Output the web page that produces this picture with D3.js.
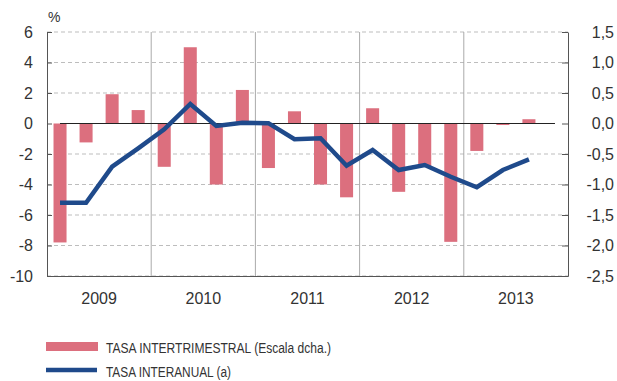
<!DOCTYPE html>
<html>
<head>
  <meta charset="utf-8" />
  <script src="https://d3js.org/d3.v7.min.js"></script>
  <style>
    body { margin: 0; background: #fff; }
    svg { display: block; font-family: "Liberation Sans", Arial, sans-serif; }
    .grid line { stroke: #bdbdbd; stroke-dasharray: 4,3; }
    .axis path, .axis line { stroke: #555; }
    .axis text { fill: #333; font-size: 16px; }
  </style>
</head>
<body>
  <svg width="617" height="381"></svg>
  <script>
    const years = ["2009", "2010", "2011", "2012", "2013"];
    const quarters = years.flatMap(y => ["T1", "T2", "T3", "T4"].map(q => y + q));
    // tasa intertrimestral (escala dcha.), one per quarter up to 2013 T3
    const intertrimestral = [-1.95, -0.31, 0.48, 0.22, -0.71, 1.25, -1.0, 0.55, -0.73, 0.2,
      -1.0, -1.21, 0.25, -1.12, -0.7, -1.94, -0.45, -0.025, 0.07];
    // tasa interanual (escala izq.)
    const interanual = [-5.2, -5.2, -2.83, -1.63, -0.38, 1.28, -0.16, 0.05, 0.02, -1.03,
      -0.97, -2.77, -1.74, -3.05, -2.72, -3.49, -4.18, -3.05, -2.35];
    const leftTicks = [-10, -8, -6, -4, -2, 0, 2, 4, 6];
    const rightTicks = [-2.5, -2.0, -1.5, -1.0, -0.5, 0.0, 0.5, 1.0, 1.5];

    const svg = d3.select("svg");
    const margin = { top: 32, right: 49, bottom: 105, left: 47 };
    const width = 617, height = 381;
    const x0 = margin.left, x1 = width - margin.right;
    const yTop = margin.top, yBot = height - margin.bottom;

    const x = d3.scaleBand().domain(quarters).range([x0, x1]).paddingInner(0.5).paddingOuter(0.25);
    const xYear = d3.scaleBand().domain(years).range([x0, x1]);
    const yL = d3.scaleLinear().domain([-10, 6]).range([yBot, yTop]);
    const yR = d3.scaleLinear().domain([-2.5, 1.5]).range([yBot, yTop]);

    const fmtL = d => d3.format("d")(d).replace("\u2212", "-");
    const fmtR = d => d3.format(".1f")(d).replace("\u2212", "-").replace(".", ",");

    // dashed gridlines (except zero)
    svg.append("g").attr("class", "grid")
      .selectAll("line").data(leftTicks.filter(d => d !== 0)).join("line")
      .attr("x1", x0).attr("x2", x1)
      .attr("y1", d => yL(d)).attr("y2", d => yL(d));

    // year separators
    svg.append("g").selectAll("line").data(years.slice(1)).join("line")
      .attr("x1", d => xYear(d)).attr("x2", d => xYear(d))
      .attr("y1", yTop).attr("y2", yBot)
      .attr("stroke", "#aaa").attr("stroke-width", 1);

    // bars
    svg.append("g").selectAll("rect").data(intertrimestral).join("rect")
      .attr("x", (d, i) => x(quarters[i]))
      .attr("width", x.bandwidth())
      .attr("y", d => Math.min(yR(d), yR(0)))
      .attr("height", d => Math.abs(yR(d) - yR(0)))
      .attr("fill", "#dc6f7e");

    // zero line
    svg.append("line")
      .attr("x1", x(quarters[0]) + x.bandwidth() / 2)
      .attr("x2", x(quarters[quarters.length - 1]) + x.bandwidth() / 2)
      .attr("y1", yL(0)).attr("y2", yL(0))
      .attr("stroke", "#222").attr("stroke-width", 1);

    // line
    const line = d3.line()
      .x((d, i) => x(quarters[i]) + x.bandwidth() / 2)
      .y(d => yL(d));
    svg.append("path").datum(interanual)
      .attr("d", line)
      .attr("fill", "none")
      .attr("stroke", "#1f4a8b")
      .attr("stroke-width", 4.5)
      .attr("stroke-linejoin", "miter");

    // axes
    svg.append("g").attr("class", "axis")
      .attr("transform", `translate(${x0},0)`)
      .call(d3.axisLeft(yL).tickValues(leftTicks).tickFormat(fmtL)
        .tickSizeInner(-5).tickSizeOuter(0).tickPadding(14));

    const axR = svg.append("g").attr("class", "axis")
      .attr("transform", `translate(${x1},0)`)
      .call(d3.axisRight(yR).tickValues(rightTicks).tickFormat(fmtR)
        .tickSizeInner(-6).tickSizeOuter(0).tickPadding(46));
    axR.selectAll("text").attr("text-anchor", "end");

    const axB = svg.append("g").attr("class", "axis")
      .attr("transform", `translate(0,${yBot})`)
      .call(d3.axisBottom(xYear).tickSize(0).tickPadding(16.5));
    axB.selectAll(".tick line").remove();

    svg.append("text").attr("x", 48).attr("y", 22)
      .attr("font-size", 14).attr("fill", "#333").text("%");

    // legend
    const leg = svg.append("g");
    leg.append("rect").attr("x", 46).attr("y", 342).attr("width", 52).attr("height", 9)
      .attr("fill", "#dc6f7e");
    leg.append("line").attr("x1", 46).attr("x2", 97).attr("y1", 370).attr("y2", 370)
      .attr("stroke", "#1f4a8b").attr("stroke-width", 4.5);
    leg.append("text").attr("x", 106).attr("y", 353)
      .attr("font-family", "'Liberation Sans Narrow', 'Liberation Sans', sans-serif")
      .attr("font-size", 14).attr("fill", "#333")
      .attr("textLength", 225).attr("lengthAdjust", "spacingAndGlyphs")
      .text("TASA INTERTRIMESTRAL (Escala dcha.)");
    leg.append("text").attr("x", 106).attr("y", 377)
      .attr("font-family", "'Liberation Sans Narrow', 'Liberation Sans', sans-serif")
      .attr("font-size", 14).attr("fill", "#333")
      .attr("textLength", 125).attr("lengthAdjust", "spacingAndGlyphs")
      .text("TASA INTERANUAL (a)");
  </script>
</body>
</html>
